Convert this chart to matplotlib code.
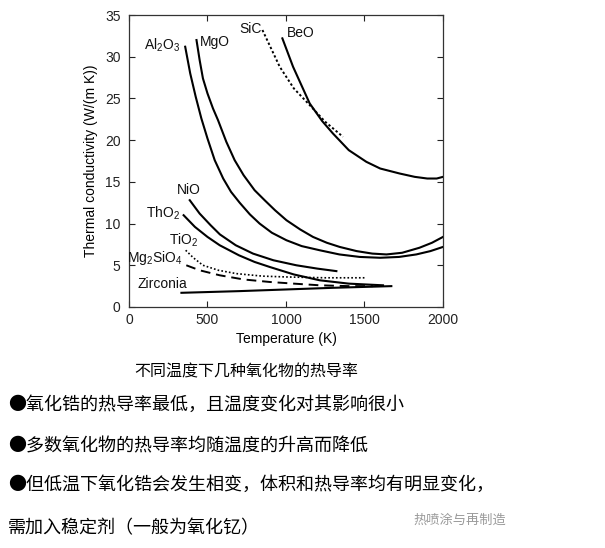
import matplotlib
matplotlib.use('Agg')
import matplotlib.pyplot as plt

plt.rcParams['font.family'] = ['Liberation Sans', 'DejaVu Sans']
plt.rcParams['mathtext.fontset'] = 'custom'
plt.rcParams['mathtext.rm'] = 'Liberation Sans'
plt.rcParams['mathtext.it'] = 'Liberation Sans'
cjk = ['Noto Sans CJK SC', 'DejaVu Sans']

# curves: temperature (K) and thermal conductivity (W/(m K))
al2o3_t = [358, 390, 425, 461, 500, 546, 600, 650, 705, 770, 832, 910, 1003, 1100, 1215, 1340, 1470, 1600, 1720, 1830, 1920, 2000]
al2o3_k = [31.2, 28.0, 25.2, 22.6, 20.2, 17.6, 15.4, 13.8, 12.5, 11.1, 10.0, 8.9, 8.0, 7.3, 6.8, 6.3, 6.0, 5.9, 6.0, 6.3, 6.7, 7.2]

mgo_t = [430, 450, 471, 500, 535, 567, 620, 673, 730, 800, 864, 930, 1003, 1090, 1172, 1260, 1342, 1450, 1550, 1640, 1740, 1850, 1930, 2000]
mgo_k = [32.0, 29.6, 27.4, 25.6, 23.8, 22.4, 19.8, 17.6, 15.8, 14.0, 12.8, 11.6, 10.4, 9.3, 8.4, 7.7, 7.2, 6.7, 6.4, 6.3, 6.5, 7.1, 7.7, 8.4]

beo_t = [977, 1045, 1151, 1230, 1299, 1400, 1512, 1600, 1724, 1820, 1900, 1960, 2000]
beo_k = [32.2, 28.8, 24.4, 22.3, 20.8, 18.8, 17.4, 16.6, 16.0, 15.6, 15.4, 15.4, 15.6]

sic_t = [850, 900, 960, 1050, 1151, 1250, 1363]
sic_k = [33.2, 31.2, 28.8, 26.2, 24.2, 22.2, 20.4]

nio_t = [387, 450, 520, 579, 680, 790, 920, 1066, 1200, 1321]
nio_k = [12.8, 11.2, 9.8, 8.7, 7.4, 6.4, 5.6, 5.0, 4.6, 4.3]

tho2_t = [348, 420, 500, 578, 700, 800, 896, 1050, 1215, 1400, 1618]
tho2_k = [11.0, 9.6, 8.4, 7.4, 6.2, 5.4, 4.8, 3.9, 3.2, 2.8, 2.6]

tio2_t = [361, 410, 471, 570, 684, 850, 1003, 1250, 1501]
tio2_k = [6.8, 5.9, 5.0, 4.4, 4.0, 3.7, 3.6, 3.5, 3.5]

mg2sio4_t = [365, 450, 578, 730, 896, 1050, 1215, 1400, 1554]
mg2sio4_k = [5.0, 4.4, 3.8, 3.3, 3.0, 2.8, 2.6, 2.5, 2.5]

zirconia_t = [334, 700, 1000, 1300, 1671]
zirconia_k = [1.7, 1.9, 2.1, 2.3, 2.5]

labels = ['Al$_2$O$_3$', 'MgO', 'SiC', 'BeO', 'NiO', 'ThO$_2$', 'TiO$_2$', 'Mg$_2$SiO$_4$', 'Zirconia']
label_t = [210, 550, 775, 1092, 382, 215, 346, 166, 210]
label_k = [31.4, 31.8, 33.3, 32.8, 14.0, 11.2, 8.0, 5.9, 2.8]

caption = '不同温度下几种氧化物的热导率'
bullets = ['●氧化锆的热导率最低，且温度变化对其影响很小',
           '●多数氧化物的热导率均随温度的升高而降低',
           '●但低温下氧化锆会发生相变，体积和热导率均有明显变化，',
           '需加入稳定剂（一般为氧化钇）']
watermark = '热喷涂与再制造'

fig = plt.figure(figsize=(6.05, 5.48), dpi=100)
ax = fig.add_axes([0.2132, 0.4398, 0.519, 0.5328])

lw = 1.5
ax.plot(al2o3_t, al2o3_k, 'k-', lw=lw)
ax.plot(mgo_t, mgo_k, 'k-', lw=lw)
ax.plot(beo_t, beo_k, 'k-', lw=lw)
ax.plot(sic_t, sic_k, color='k', lw=1.4, linestyle=(0, (1.2, 1.2)))
ax.plot(nio_t, nio_k, 'k-', lw=lw)
ax.plot(tho2_t, tho2_k, 'k-', lw=lw)
ax.plot(tio2_t, tio2_k, color='k', lw=1.2, linestyle=(0, (1, 1.3)))
ax.plot(mg2sio4_t, mg2sio4_k, color='k', lw=1.4, linestyle=(0, (5, 3)))
ax.plot(zirconia_t, zirconia_k, 'k-', lw=lw)

for name, t, k in zip(labels, label_t, label_k):
    ax.text(t, k, name, fontsize=10, ha='center', va='center', color='#111111')

ax.set_xlim(0, 2000)
ax.set_ylim(0, 35)
ax.set_xticks([0, 500, 1000, 1500, 2000])
ax.set_yticks([0, 5, 10, 15, 20, 25, 30, 35])
ax.tick_params(direction='in', top=True, right=True, length=4, width=0.8,
               labelsize=10, pad=4, colors='#222222')
ax.tick_params(axis='y', pad=6)
for s in ax.spines.values():
    s.set_linewidth(0.9)
    s.set_color('#333333')
ax.set_xlabel('Temperature (K)', fontsize=10, labelpad=4)
ax.set_ylabel('Thermal conductivity (W/(m K))', fontsize=10, labelpad=5)

fig.text(0.4066, 0.3217, caption, family=cjk, fontsize=11.5, ha='center', va='center')
for y, line in zip([0.261, 0.1849, 0.115, 0.036], bullets):
    fig.text(0.0132, y, line, family=cjk, fontsize=13, ha='left', va='center')
fig.text(0.683, 0.051, watermark, family=cjk, fontsize=9.5, ha='left', va='center', color='#9a9a9a')

fig.savefig('out.png', dpi=100)
